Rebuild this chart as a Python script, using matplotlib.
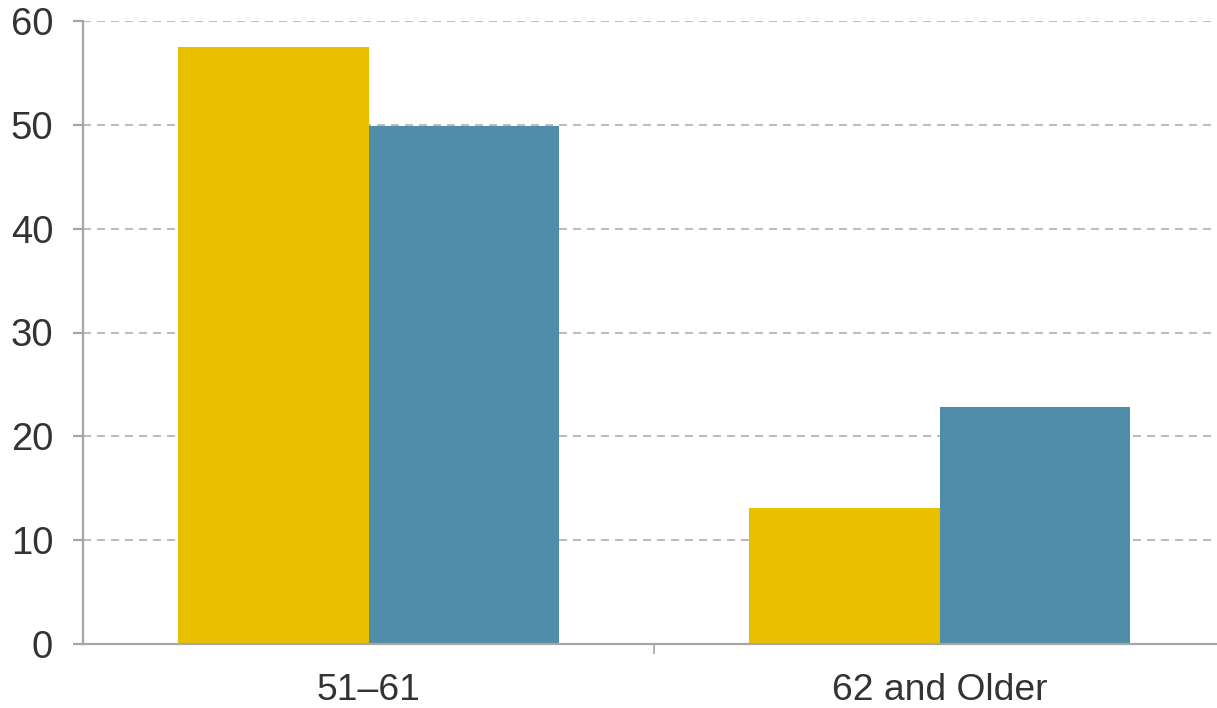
import numpy as np
import matplotlib.pyplot as plt

plt.rcParams['font.family'] = ['Liberation Sans', 'DejaVu Sans']

# data
categories = ['51\u201361', '62 and Older']
series_a = [57.5, 13.1]   # yellow
series_b = [49.9, 22.8]   # blue
y_ticks = [0, 10, 20, 30, 40, 50, 60]

yellow = '#E8C000'
blue = '#4F8DA8'
axis_grey = '#A6A6A6'

fig = plt.figure(figsize=(12.17, 7.08), dpi=100)
# axes runs a little past the right edge of the picture, like the original
ax = fig.add_axes([83 / 1217, 64 / 708, 1142 / 1217, 623 / 708])

x = np.arange(len(categories))
w = 1 / 3
ax.bar(x - w / 2, series_a, width=w, color=yellow, zorder=2)
ax.bar(x + w / 2, series_b, width=w, color=blue, zorder=2)

ax.set_xlim(-0.5, 1.5)
ax.set_ylim(0, 60)
ax.set_yticks(y_ticks)
ax.set_xticks([0.5], minor=False)
ax.set_xticks(x, categories, minor=True)
ax.set_xticklabels([''])

# dashes get scaled by linewidth: 4*1.44pt ~ 8px on, 3*1.44pt ~ 6px off
ax.yaxis.grid(True, color='#BDBDBD', linestyle=(0, (4, 3)), linewidth=1.44, zorder=1)
ax.set_axisbelow(True)

for side in ['top', 'right']:
    ax.spines[side].set_visible(False)
for side in ['left', 'bottom']:
    ax.spines[side].set_color(axis_grey)
    ax.spines[side].set_linewidth(1.6)

ax.tick_params(axis='y', length=7.5, width=1.6, color=axis_grey,
               labelsize=27.5, labelcolor='#333333', pad=14)
ax.tick_params(axis='x', which='major', length=7.5, width=1.2, color=axis_grey)
ax.tick_params(axis='x', which='minor', length=0, labelsize=26.8,
               labelcolor='#333333', pad=21)

fig.savefig('out.png', dpi=100)
